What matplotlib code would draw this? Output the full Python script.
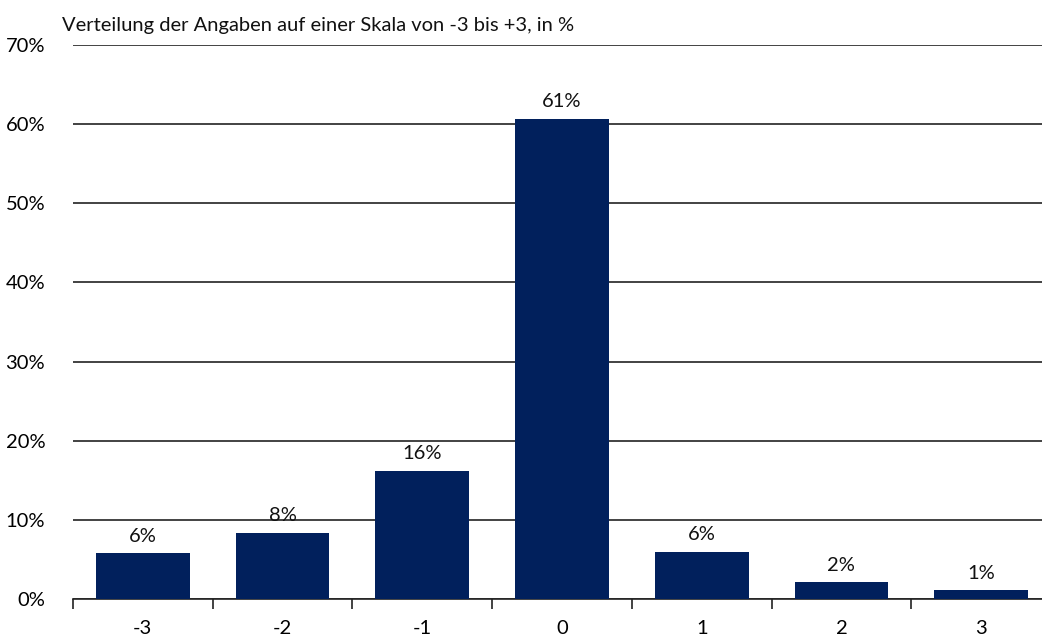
import numpy as np
import matplotlib.pyplot as plt

categories = ['-3', '-2', '-1', '0', '1', '2', '3']
shares = [5.8, 8.4, 16.2, 60.7, 6.0, 2.1, 1.1]
labels = ['6%', '8%', '16%', '61%', '6%', '2%', '1%']

plt.rcParams['font.family'] = ['Lato', 'DejaVu Sans']
fs = 14.5

fig = plt.figure(figsize=(10.42, 6.37), dpi=100)
ax = fig.add_axes([73 / 1042, 38 / 637, (1051 - 73) / 1042, (599 - 45) / 637])

x = np.arange(len(categories))
ax.bar(x, shares, width=0.67, color='#01205C', zorder=3)

for xi, v, lab in zip(x, shares, labels):
    ax.annotate(lab, (xi, v), xytext=(0, 6), textcoords='offset points',
                ha='center', va='bottom', fontsize=fs, color='#111111', zorder=4)

ax.set_xlim(-0.5, len(categories) - 0.5)
ax.set_ylim(0, 70)
ax.set_yticks(range(0, 71, 10))
ax.set_yticklabels([f'{v}%' for v in range(0, 71, 10)], fontsize=fs)
ax.yaxis.grid(True, color='#222222', lw=1.2, zorder=0)
ax.tick_params(axis='y', length=0, pad=20)

ax.set_xticks(x)
ax.set_xticklabels(categories, fontsize=fs)
ax.set_xticks(np.arange(-0.5, len(categories), 1), minor=True)
ax.tick_params(axis='x', which='major', length=0, pad=15)
ax.tick_params(axis='x', which='minor', length=7, width=1.2, color='#222222', direction='out')

for s in ['top', 'right', 'left']:
    ax.spines[s].set_visible(False)
ax.spines['bottom'].set_color('#222222')
ax.spines['bottom'].set_linewidth(1.2)

fig.text(62 / 1042, 1 - 25 / 637, 'Verteilung der Angaben auf einer Skala von -3 bis +3, in %',
         ha='left', va='center', fontsize=fs, color='#111111')

fig.savefig('out.png', dpi=100)
